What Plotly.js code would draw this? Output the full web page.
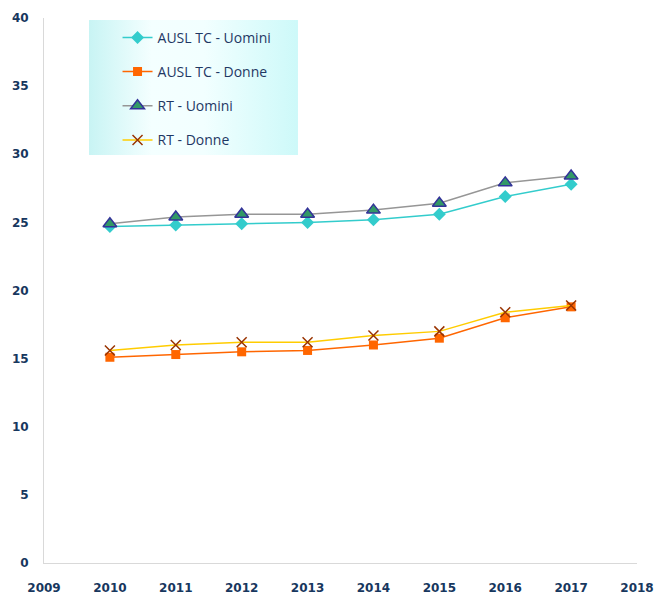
<!DOCTYPE html>
<html>
<head>
<meta charset="utf-8">
<script src="https://cdn.plot.ly/plotly-3.0.1.min.js"></script>
<style>html,body{margin:0;padding:0;background:#fff;}#chart{width:657px;height:595px;}</style>
</head>
<body>
<div id="chart"></div>
<script>
const years = [2010, 2011, 2012, 2013, 2014, 2015, 2016, 2017];
const auslUomini = [24.7, 24.8, 24.9, 25.0, 25.2, 25.6, 26.9, 27.8];
const auslDonne = [15.1, 15.3, 15.5, 15.6, 16.0, 16.5, 18.0, 18.8];
const rtUomini = [24.9, 25.4, 25.6, 25.6, 25.9, 26.4, 27.9, 28.4];
const rtDonne = [15.6, 16.0, 16.2, 16.2, 16.7, 17.0, 18.4, 18.9];
const names = ["AUSL TC - Uomini", "AUSL TC - Donne", "RT - Uomini", "RT - Donne"];
const xTicks = [2009, 2010, 2011, 2012, 2013, 2014, 2015, 2016, 2017, 2018];
const yTicks = [0, 5, 10, 15, 20, 25, 30, 35, 40];

const gradSvg = '<svg xmlns="http://www.w3.org/2000/svg" width="200" height="100" preserveAspectRatio="none">' +
  '<defs><linearGradient id="g" x1="0" y1="0" x2="1" y2="0">' +
  '<stop offset="0" stop-color="#c8f4f4"/><stop offset="0.3" stop-color="#f4ffff"/>' +
  '<stop offset="0.55" stop-color="#f2ffff"/><stop offset="1" stop-color="#cdf9f9"/>' +
  '</linearGradient></defs><rect width="200" height="100" fill="url(#g)"/></svg>';
const gradUri = 'data:image/svg+xml;base64,' + btoa(gradSvg);

const traces = [
  {x: years, y: auslUomini, name: names[0], legendgroup: 'a', mode: 'lines+markers',
   line: {color: '#33cccc', width: 1.5},
   marker: {symbol: 'diamond', size: 10, color: '#33cccc'}},
  {x: years, y: auslDonne, name: names[1], legendgroup: 'b', mode: 'lines+markers',
   line: {color: '#ff6600', width: 1.5},
   marker: {symbol: 'square', size: 9, color: '#ff6600'}},
  {x: years, y: rtUomini, name: names[2], legendgroup: 'c', mode: 'lines+markers',
   line: {color: '#969696', width: 1.5},
   marker: {symbol: 'triangle-up', size: 12, color: '#339966', line: {color: '#333399', width: 1.5}}},
  {x: years, y: rtDonne, name: names[3], legendgroup: 'd', mode: 'lines+markers',
   line: {color: '#ffcc00', width: 1.5},
   marker: {symbol: 'x-thin', size: 10, color: '#993300', line: {color: '#993300', width: 1.5}}}
];

const tickFont = {family: 'DejaVu Sans', size: 12, weight: 'bold', color: '#17375e'};

const layout = {
  width: 657, height: 595,
  margin: {l: 44, r: 20, t: 18, b: 32},
  paper_bgcolor: '#ffffff', plot_bgcolor: '#ffffff',
  showlegend: true,
  legend: {
    x: 0.124, y: 0.993, xanchor: 'left', yanchor: 'top',
    bgcolor: 'rgba(0,0,0,0)', borderwidth: 0,
    traceorder: 'grouped', tracegroupgap: 13,
    font: {family: 'Open Sans', size: 14, color: '#1f3864'}
  },
  images: [{
    source: gradUri, xref: 'paper', yref: 'paper',
    x: 0.0759, y: 0.9963, sizex: 0.3524, sizey: 0.2477,
    xanchor: 'left', yanchor: 'top', sizing: 'stretch', layer: 'below'
  }],
  xaxis: {
    range: [2009, 2018], tickvals: xTicks, ticktext: xTicks.map(String),
    showgrid: false, zeroline: false, showline: true, linecolor: '#d9d9d9', linewidth: 1,
    ticks: '', ticklabelstandoff: 14, tickfont: tickFont, fixedrange: true
  },
  yaxis: {
    range: [0, 40], tickvals: yTicks,
    showgrid: false, zeroline: false, showline: true, linecolor: '#d9d9d9', linewidth: 1,
    ticks: '', ticklabelstandoff: 12, tickfont: tickFont, fixedrange: true
  }
};

Plotly.newPlot('chart', traces, layout, {displayModeBar: false, staticPlot: true});
</script>
</body>
</html>
